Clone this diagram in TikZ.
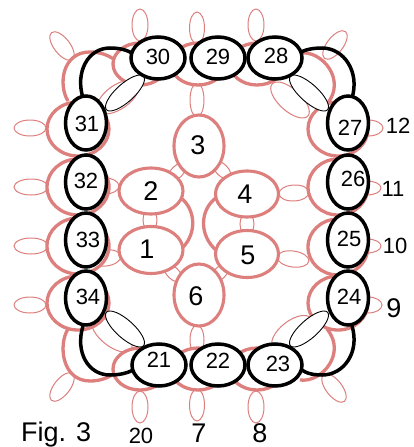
\documentclass[tikz,border=0pt]{standalone}
\usepackage{fontspec}
\usetikzlibrary{shapes.geometric}
\setmainfont{Liberation Sans}
\definecolor{rosy}{HTML}{DC7F7D}
\tikzset{
  px/.style={x=1pt,y=-1pt},
  petal/.style={draw=rosy,line width=1pt,fill=white},
  ring/.style={draw=rosy,line width=3.1pt,fill=white,ellipse,inner sep=0pt},
  big/.style={draw=rosy,line width=3.3pt},
  bigf/.style={big,fill=white},
  blk/.style={draw=black,line width=3.5pt,fill=white,inner sep=0pt,ellipse},
  arcb/.style={draw=black,line width=3.5pt},
  thinb/.style={draw=black,line width=.9pt,fill=white},
  lab/.style={inner sep=0pt,anchor=center,text=black},
}
\newcommand{\ovl}[6][petal]{\draw[#1,rotate around={-#6:(#2,#3)}] (#2,#3) ellipse [x radius=#4,y radius=#5];}
\begin{document}
\begin{tikzpicture}[px]
\useasboundingbox (0,0) rectangle (414,447);
% outer petals
\ovl{140}{25}{8}{16}{0}
\ovl{197}{28}{7.5}{16}{0}
\ovl{256}{25}{8}{16}{0}
\ovl{62}{46}{17}{8}{52}
\ovl{335}{45}{17}{8}{-52}
\ovl{30}{128}{16}{8}{0}
\ovl{31}{187}{17}{8}{0}
\ovl{31}{246}{17}{8}{0}
\ovl{30}{305}{16}{8}{0}
\ovl{62}{387}{17}{8}{-52}
\ovl{334}{388}{17}{8}{52}
\ovl{140}{407}{8}{16}{0}
\ovl{197}{405}{7.5}{16}{0}
\ovl{256}{407}{8}{16}{0}
\ovl{368}{128}{15}{8}{0}
\ovl{367}{188}{14}{7}{0}
\ovl{367}{246}{14}{7}{0}
\ovl{368}{305}{14}{8}{0}
\ovl{197}{100}{7}{17}{0}
\ovl{197}{340}{7}{15}{0}
\ovl{105}{186}{14}{8}{0}
\ovl{106}{258}{15}{8}{-8}
\ovl{294}{193}{15}{8}{-3}
\ovl{293}{259}{16}{8}{8}
% small links in the centre
\ovl{177}{172}{6}{11}{45}
\ovl{222}{170}{6}{11}{-45}
\ovl{150}{220}{7}{11}{0}
\ovl{247}{224}{7}{11}{0}
\ovl{173}{273}{6}{11}{-45}
\ovl{220}{273}{6}{11}{45}
% diagonal pink petals
\ovl[petal]{118}{97}{24}{12}{-35}
\ovl[petal]{290}{100}{24}{11}{42}
\ovl[petal]{112}{335}{24}{11}{38}
\ovl[petal]{292}{333}{24}{12}{-38}
% corner arcs (open towards the inside)
\path[fill=white] (68,101) .. controls (58,85) and (62,52) .. (90,52) .. controls (100,52) and (108,55) .. (115,60) -- cycle;
\path[fill=white] (302,54) .. controls (322,52) and (345,80) .. (327,104) -- cycle;
\path[fill=white] (68,329) .. controls (58,345) and (62,381) .. (90,381) .. controls (100,381) and (108,378) .. (115,373) -- cycle;
\path[fill=white] (302,379) .. controls (322,381) and (345,353) .. (327,329) -- cycle;
\draw[big] (68,101) .. controls (58,85) and (62,52) .. (90,52) .. controls (100,52) and (108,55) .. (115,60);
\draw[big] (300,53) .. controls (322,50) and (347,80) .. (327,104);
\draw[big] (68,329) .. controls (58,345) and (62,381) .. (90,381) .. controls (100,381) and (108,378) .. (115,373);
\draw[big] (300,380) .. controls (322,383) and (347,353) .. (327,329);
\ovl[bigf]{78}{129}{31}{27}{0}
\ovl[bigf]{78}{187}{31}{28}{0}
\ovl[bigf]{78}{246}{31}{28}{0}
\ovl[bigf]{78}{303}{31}{27}{0}
\ovl[bigf]{338}{129}{30}{27}{0}
\ovl[bigf]{338}{187}{30}{28}{0}
\ovl[bigf]{338}{247}{30}{28}{0}
\ovl[bigf]{338}{303}{30}{27}{0}
\ovl[bigf]{140}{64}{27}{21}{0}
\ovl[bigf]{198}{64}{27}{21}{0}
\ovl[bigf]{257}{64}{27}{21}{0}
\ovl[bigf]{140}{369}{27}{21}{0}
\ovl[bigf]{198}{369}{27}{21}{0}
\ovl[bigf]{257}{369}{27}{21}{0}
% centre arcs
\draw[big] (180,197) .. controls (197,210) and (197,236) .. (180,250);
\draw[big] (217,197) .. controls (199,210) and (199,236) .. (217,251);
% centre rings
\node[ring,minimum width=50pt,minimum height=62pt] (n3) at (199,146) {};
\node[ring,minimum width=64pt,minimum height=46pt] (n2) at (151,191) {};
\node[ring,minimum width=64pt,minimum height=47pt] (n1) at (151,250) {};
\node[ring,minimum width=63pt,minimum height=46pt] (n4) at (247,194) {};
\node[ring,minimum width=63pt,minimum height=47pt] (n5) at (247,254) {};
\node[ring,minimum width=50pt,minimum height=62pt] (n6) at (199,295) {};
% black arcs
\draw[arcb] (83,98) .. controls (75,72) and (88,48) .. (110,48) .. controls (120,48) and (128,50) .. (135,55);
\draw[arcb] (352,98) .. controls (360,72) and (344,48) .. (322,48) .. controls (312,48) and (303,50) .. (298,54);
\draw[arcb] (83,326) .. controls (75,352) and (88,375) .. (110,375) .. controls (120,375) and (128,373) .. (135,369);
\draw[arcb] (352,326) .. controls (360,352) and (344,375) .. (322,375) .. controls (312,375) and (303,373) .. (298,366);
% thin black ovals
\ovl[thinb]{125}{93}{25}{9}{-42}
\ovl[thinb]{309}{93}{25}{9}{42}
\ovl[thinb]{125}{329}{25}{9}{42}
\ovl[thinb]{309}{329}{25}{9}{-42}
% black rings
\foreach \n/\x/\y in {30/158/58,29/218/58,28/275/58,21/159/365,22/218/365,23/275/365}
  \node[blk,minimum width=54pt,minimum height=42pt] (b\n) at (\x,\y) {};
\foreach \n/\x/\y in {31/86/123,32/86/182,33/86/240,34/86/298,27/348/123,26/348/182,25/348/240,24/348/298}
  \node[blk,minimum width=41pt,minimum height=54pt] (b\n) at (\x,\y) {};
% labels
\foreach \t/\x/\y in {30/158/57,29/218/57,28/276/56,27/350/128,26/353/179,25/349/239,24/349/297,23/278/364,22/218/361,21/159/360,34/88/297,33/88/240,32/86/181,31/87/124}
  \node[lab,font=\fontsize{22}{22}\selectfont] at (\x,\y) {\t};
\foreach \t/\x/\y in {3/198/145,2/151/191,1/147/249,4/245/194,5/248/255,6/196/296}
  \node[lab,font=\fontsize{27}{27}\selectfont] at (\x,\y) {\t};
\node[lab,font=\fontsize{22}{22}\selectfont] at (398,126) {12};
\node[lab,font=\fontsize{22}{22}\selectfont] at (393,189) {11};
\node[lab,font=\fontsize{22}{22}\selectfont] at (395,246) {10};
\node[lab,font=\fontsize{27}{27}\selectfont] at (394,308) {9};
\node[lab,font=\fontsize{22}{22}\selectfont] at (141,436) {20};
\node[lab,font=\fontsize{27}{27}\selectfont] at (199,433) {7};
\node[lab,font=\fontsize{27}{27}\selectfont] at (260,433) {8};
\node[inner sep=0pt,anchor=base west,font=\fontsize{27}{27}\selectfont] at (21,441) {Fig. 3};
\end{tikzpicture}
\end{document}
